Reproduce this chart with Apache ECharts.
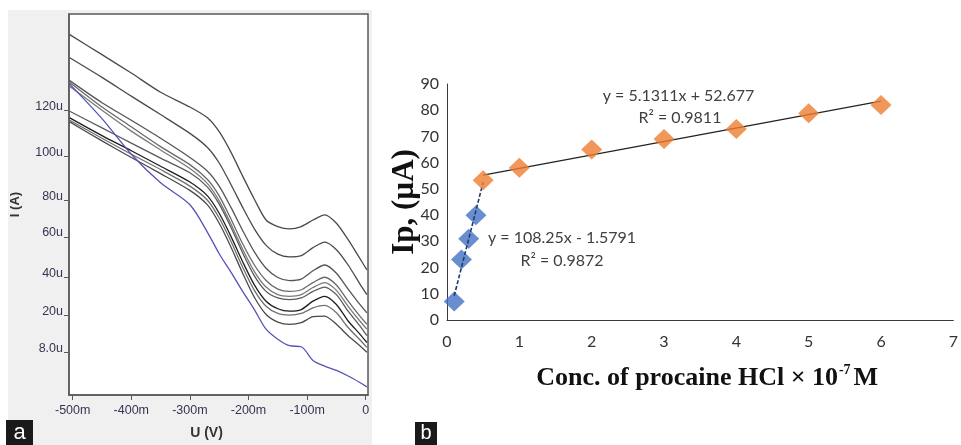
<!DOCTYPE html>
<html><head><meta charset="utf-8">
<script src="https://cdn.jsdelivr.net/npm/echarts@6/dist/echarts.min.js"></script>
<style>html,body{margin:0;padding:0;background:#fff}#c{width:961px;height:445px}</style>
</head><body><div id="c"></div>
<script>
// ---------- Panel a : voltammograms ----------
const voltages = [-505,-450,-400,-350,-300,-270,-250,-230,-210,-190,-170,-150,-130,-110,-90,-70,-50,-30,-10,2];
const curveA = [157.2,147.4,138.4,129.0,121.8,116.5,109.7,99.7,88.0,76.7,66.5,63.3,62.2,63.3,66.5,69.0,64.9,56.9,47.7,42.1];
const curveB = [145.9,136.3,127.1,118.1,108.9,102.0,94.4,83.9,72.7,62.2,54.1,49.8,48.5,49.1,53.0,55.7,52.0,44.5,35.3,30.0];
const curveC = [134.7,123.9,115.3,106.5,97.1,90.4,83.1,72.7,61.4,50.9,42.9,38.4,36.9,37.6,41.7,44.5,40.5,32.7,25.2,21.1];
const curveD = [133.8,121.8,112.1,102.4,93.6,86.3,78.3,67.0,54.9,44.5,36.9,32.7,31.6,32.4,35.9,38.5,34.7,26.8,19.5,15.5];
const curveE = [131.9,120.2,110.0,100.8,91.7,84.3,75.9,64.6,52.2,41.3,33.7,30.0,29.2,30.0,33.5,35.9,32.1,24.3,17.1,13.1];
const curveF = [119.7,111.6,104.1,96.8,89.6,82.6,74.3,63.0,50.4,39.2,31.6,28.4,27.6,28.4,31.6,33.7,30.0,21.9,14.7,9.9];
const curveG = [116.5,107.8,100.4,92.8,85.1,78.3,69.8,58.5,46.1,34.8,26.8,23.1,21.9,22.7,26.8,29.2,25.2,17.1,10.7,6.6];
const curveH = [115.3,106.5,98.7,91.2,83.1,76.2,67.5,56.1,43.4,32.1,24.3,20.8,20.0,20.8,23.5,24.7,21.1,13.9,7.9,4.2];
const curveI = [114.5,105.2,97.1,89.2,81.0,73.9,64.9,53.3,40.5,28.7,20.3,16.6,15.5,16.3,19.2,19.5,15.5,9.9,5.0,1.8];
const curveBlank = [133.0,116.1,98.7,84.7,74.0,60.5,50.0,41.0,31.6,22.7,13.1,8.2,5.0,4.5,-2.2,-5.0,-7.1,-9.8,-13.0,-15.1];
const grayCurves = [curveA, curveB, curveC, curveD, curveE, curveF, curveG, curveH, curveI];
const grayColors = ['#4a4a4a','#4a4a4a','#555555','#6a6a6a','#7a7a7a','#5a5a5a','#1e1e1e','#707070','#4a4a4a'];
const currentTickValues = [120, 97.8, 76.0, 58.2, 38.4, 20.0, 1.6];
const currentTickLabels = ['120u','100u','80u','60u','40u','20u','8.0u'];
const voltageTickValues = [-500,-400,-300,-200,-100,0];
const voltageTickLabels = ['-500m','-400m','-300m','-200m','-100m','0'];

// ---------- Panel b : calibration ----------
const concLow = [0.1, 0.2, 0.3, 0.4, 0.5];
const ipLow = [7.1, 23.1, 31.0, 39.9, 53.3];
const concHigh = [0.5, 1, 2, 3, 4, 5, 6];
const ipHigh = [53.3, 58.1, 65.0, 69.0, 72.8, 78.8, 82.0];
const fitLowCoef = [108.25, -1.5791];
const fitHighCoef = [5.1311, 52.677];
const eqLowText = ['y = 108.25x - 1.5791', 'R² = 0.9872'];
const eqHighText = ['y = 5.1311x + 52.677', 'R² = 0.9811'];

const chart = echarts.init(document.getElementById('c'), null, {renderer: 'canvas'});
const sans = 'Liberation Sans, Arial, sans-serif';
const cal = 'Lato, Carlito, Calibri, sans-serif';
const serif = 'Liberation Serif, Times New Roman, serif';

function fitLine(coef, xs) {
  const x0 = Math.min(...xs), x1 = Math.max(...xs);
  return [[x0, coef[0] * x0 + coef[1]], [x1, coef[0] * x1 + coef[1]]];
}
function labelFor(values, labels) {
  return function (v) {
    for (let i = 0; i < values.length; i++) if (Math.abs(values[i] - v) < 0.01) return labels[i];
    return '';
  };
}
function annot(x, y, text) {
  return {coord: [x, y], value: text};
}

const series = [];
grayCurves.forEach((c, k) => {
  series.push({
    type: 'line', xAxisIndex: 0, yAxisIndex: 0, showSymbol: false, smooth: 0.25,
    data: voltages.map((v, i) => [v, c[i]]),
    lineStyle: {color: grayColors[k], width: 1.3}, silent: true, z: 3
  });
});
series.push({
  type: 'line', xAxisIndex: 0, yAxisIndex: 0, showSymbol: false, smooth: 0.3,
  data: voltages.map((v, i) => [v, curveBlank[i]]),
  lineStyle: {color: '#5454b8', width: 1.3}, silent: true, z: 4
});
// panel b
series.push({
  type: 'line', xAxisIndex: 1, yAxisIndex: 1, showSymbol: false,
  data: fitLine(fitLowCoef, concLow),
  lineStyle: {color: '#1f3a6e', width: 1.6, type: [4, 2]}, z: 5,
  markPoint: {
    symbol: 'circle', symbolSize: 1, itemStyle: {color: 'rgba(0,0,0,0)'},
    label: {show: true, position: 'inside', formatter: p => p.value, color: '#404040', fontSize: 16, fontFamily: cal},
    data: [annot(1.59, 31.5, eqLowText[0]), annot(1.59, 22.7, eqLowText[1])]
  }
});
series.push({
  type: 'line', xAxisIndex: 1, yAxisIndex: 1, showSymbol: false,
  data: fitLine(fitHighCoef, concHigh),
  lineStyle: {color: '#222', width: 1.1}, z: 5,
  markPoint: {
    symbol: 'circle', symbolSize: 1, itemStyle: {color: 'rgba(0,0,0,0)'},
    label: {show: true, position: 'inside', formatter: p => p.value, color: '#404040', fontSize: 16, fontFamily: cal},
    data: [annot(3.2, 85.6, eqHighText[0]), annot(3.22, 77.0, eqHighText[1])]
  }
});
series.push({
  type: 'scatter', xAxisIndex: 1, yAxisIndex: 1, symbol: 'diamond', symbolSize: [21, 20],
  data: concHigh.map((x, i) => [x, ipHigh[i]]), itemStyle: {color: '#ED7D31'}, z: 6
});
series.push({
  type: 'scatter', xAxisIndex: 1, yAxisIndex: 1, symbol: 'diamond', symbolSize: [21, 20],
  data: concLow.slice(0, 4).map((x, i) => [x, ipLow[i]]), itemStyle: {color: '#4472C4'}, z: 4
});

const option = {
  animation: false,
  backgroundColor: '#ffffff',
  graphic: [
    {type: 'rect', z: -10, shape: {x: 8, y: 10, width: 364, height: 435}, style: {fill: '#f0f0f0'}},
    {type: 'rect', z: 10, shape: {x: 6, y: 420, width: 27, height: 25}, style: {fill: '#1a1a1a'}},
    {type: 'text', z: 11, style: {x: 19.5, y: 432.5, text: 'a', fill: '#fff', font: '22px ' + sans, textAlign: 'center', textVerticalAlign: 'middle'}},
    {type: 'rect', z: 10, shape: {x: 415, y: 422, width: 22, height: 23}, style: {fill: '#1a1a1a'}},
    {type: 'text', z: 11, style: {x: 426, y: 433.5, text: 'b', fill: '#fff', font: '20px ' + sans, textAlign: 'center', textVerticalAlign: 'middle'}}
  ],
  grid: [
    {left: 69, top: 14, width: 299, height: 386, show: true, backgroundColor: '#ffffff', borderColor: '#5a5a5a', borderWidth: 1.5},
    {left: 447, top: 84, right: -2, bottom: 125, show: false}
  ],
  xAxis: [
    {
      gridIndex: 0, type: 'value', min: -506.3, max: 3.9,
      axisLine: {show: true, onZero: false, lineStyle: {color: '#5a5a5a', width: 1.5}},
      axisTick: {show: true, customValues: voltageTickValues, length: 5, lineStyle: {color: '#5a5a5a'}},
      axisLabel: {customValues: voltageTickValues, formatter: labelFor(voltageTickValues, voltageTickLabels),
        color: '#3b3252', fontSize: 12.5, fontFamily: sans, margin: 9},
      splitLine: {show: false},
      name: 'U (V)', nameLocation: 'middle', nameGap: 31, nameMoveOverlap: false,
      nameTextStyle: {fontWeight: 'bold', fontSize: 14, color: '#333', fontFamily: sans, padding: [0, 24, 0, 0]}
    },
    {
      gridIndex: 1, type: 'value', min: 0, max: 7, interval: 1,
      axisLine: {show: true, onZero: false, lineStyle: {color: '#3a3a3a', width: 1}},
      axisTick: {show: false},
      axisLabel: {color: '#333', fontSize: 16, fontFamily: cal, margin: 14},
      splitLine: {show: false},
      name: '{a|Conc. of procaine HCl × 10}{s|-7}{a|M}', nameLocation: 'middle', nameGap: 43,
      nameTextStyle: {
        padding: [0, 0, 0, 14],
        rich: {
          a: {fontFamily: serif, fontWeight: 'bold', fontSize: 26, color: '#111', lineHeight: 30},
          s: {fontFamily: serif, fontWeight: 'bold', fontSize: 14, color: '#111', lineHeight: 30, verticalAlign: 'top', padding: [0, 3, 12, 1]}
        }
      }
    }
  ],
  yAxis: [
    {
      gridIndex: 0, type: 'value', min: -19.1, max: 167.3,
      axisLine: {show: true, onZero: false, lineStyle: {color: '#5a5a5a', width: 1.5}},
      axisTick: {show: true, customValues: currentTickValues, length: 5, lineStyle: {color: '#5a5a5a'}},
      axisLabel: {customValues: currentTickValues, formatter: labelFor(currentTickValues, currentTickLabels),
        color: '#3b3252', fontSize: 12.5, fontFamily: sans, margin: 6, verticalAlign: 'bottom', lineHeight: 8},
      splitLine: {show: false},
      name: 'I (A)', nameLocation: 'middle', nameGap: 47, nameMoveOverlap: false,
      nameTextStyle: {fontWeight: 'bold', fontSize: 13, color: '#333', fontFamily: sans}
    },
    {
      gridIndex: 1, type: 'value', min: 0, max: 90, interval: 10,
      axisLine: {show: true, onZero: false, lineStyle: {color: '#3a3a3a', width: 1}},
      axisTick: {show: false},
      axisLabel: {color: '#333', fontSize: 16, fontFamily: cal, margin: 8},
      splitLine: {show: false},
      name: 'Ip, (µA)', nameLocation: 'middle', nameGap: 27, nameMoveOverlap: false,
      nameTextStyle: {fontFamily: serif, fontWeight: 'bold', fontSize: 31, color: '#111'}
    }
  ],
  series: series
};
chart.setOption(option);
</script>
</body></html>
